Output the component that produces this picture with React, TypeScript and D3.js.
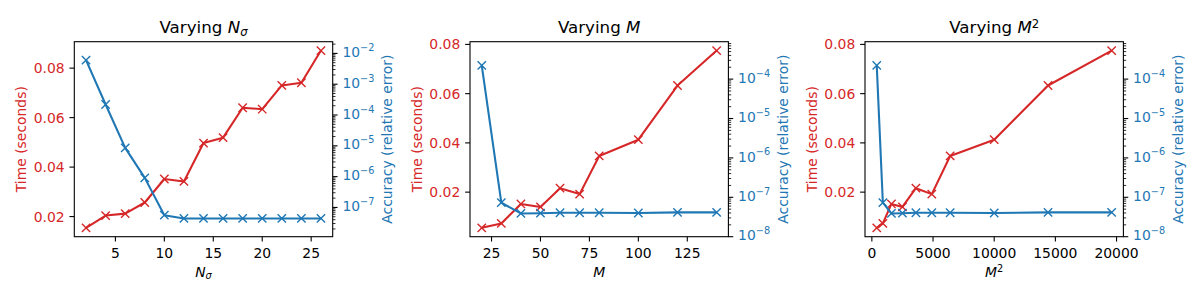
import { scaleLinear, scaleLog, line as d3line, min as d3min, max as d3max } from "d3";
import type { ReactNode } from "react";

// data
const nSigma = [2, 4, 6, 8, 10, 12, 14, 16, 18, 20, 22, 24, 26];
const timeNSigma = [0.01545, 0.0204, 0.0212, 0.0257, 0.0352, 0.0342, 0.0497, 0.0519, 0.064, 0.0634, 0.073, 0.0741, 0.0871];
const errNSigma = [6.05e-3, 2.2e-4, 8.6e-6, 9.1e-7, 5.6e-8, 4.4e-8, 4.4e-8, 4.4e-8, 4.4e-8, 4.4e-8, 4.4e-8, 4.4e-8, 4.4e-8];

const mValues = [20, 30, 40, 50, 60, 70, 80, 100, 120, 140];
const m2Values = [400, 900, 1600, 2500, 3600, 4900, 6400, 10000, 14400, 19600];
const timeM = [0.0055, 0.0073, 0.0152, 0.014, 0.0216, 0.0192, 0.0347, 0.0413, 0.0633, 0.0775];
const errM = [2.23e-4, 7.3e-8, 3.9e-8, 3.95e-8, 4.05e-8, 4.05e-8, 4.05e-8, 4.0e-8, 4.15e-8, 4.15e-8];

const xTicksNSigma = [5, 10, 15, 20, 25];
const xTicksM = [25, 50, 75, 100, 125];
const xTicksM2 = [0, 5000, 10000, 15000, 20000];
const timeTicks = [0.02, 0.04, 0.06, 0.08];
const timeTickLabels = ["0.02", "0.04", "0.06", "0.08"];
const errExpNSigma = [-7, -6, -5, -4, -3, -2];
const errExpM = [-8, -7, -6, -5, -4];

const RED = "#d62728";
const BLUE = "#1f77b4";
const FONT = "DejaVu Sans";
const FS = 13.9;

const TOP = 41.7;
const BOTTOM = 236.7;
const AX_W = 258.4;
const MAJOR = 4.86;
const MINOR = 2.78;

type Kind = "nsigma" | "m" | "m2";

interface Panel {
  kind: Kind;
  left: number;
  xs: number[];
  time: number[];
  err: number[];
  xTicks: number[];
  errExps: number[];
  logDomain: [number, number];
}

const panels: Panel[] = [
  { kind: "nsigma", left: 74.3, xs: nSigma, time: timeNSigma, err: errNSigma, xTicks: xTicksNSigma, errExps: errExpNSigma, logDomain: [10 ** -7.95, 10 ** -1.62] },
  { kind: "m", left: 470, xs: mValues, time: timeM, err: errM, xTicks: xTicksM, errExps: errExpM, logDomain: [1e-8, 10 ** -3.05] },
  { kind: "m2", left: 865, xs: m2Values, time: timeM, err: errM, xTicks: xTicksM2, errExps: errExpM, logDomain: [1e-8, 10 ** -3.05] },
];

function padded(vals: number[]): [number, number] {
  const lo = d3min(vals) ?? 0;
  const hi = d3max(vals) ?? 1;
  const p = (hi - lo) * 0.05;
  return [lo - p, hi + p];
}

function symbol(kind: Kind): ReactNode {
  if (kind === "nsigma")
    return (
      <>
        <tspan fontStyle="italic">N</tspan>
        <tspan fontStyle="italic" fontSize="0.7em" dy="0.25em">σ</tspan>
      </>
    );
  if (kind === "m") return <tspan fontStyle="italic">M</tspan>;
  return (
    <>
      <tspan fontStyle="italic">M</tspan>
      <tspan fontSize="0.7em" dy="-0.5em">2</tspan>
    </>
  );
}

function Marker({ x, y, color }: { x: number; y: number; color: string }) {
  const s = 4.17;
  return (
    <path d={`M${x - s},${y - s}L${x + s},${y + s}M${x - s},${y + s}L${x + s},${y - s}`} stroke={color} strokeWidth={1.4} fill="none" />
  );
}

function ChartPanel({ p }: { p: Panel }) {
  const right = p.left + AX_W;
  const cx = p.left + AX_W / 2;
  const x = scaleLinear().domain(padded(p.xs)).range([p.left, right]);
  const y = scaleLinear().domain(padded(p.time)).range([BOTTOM, TOP]);
  const yl = scaleLog().domain(p.logDomain).range([BOTTOM, TOP]);

  const redPath = d3line<number>().x((_, i) => x(p.xs[i])).y((v) => y(v))(p.time) ?? "";
  const bluePath = d3line<number>().x((_, i) => x(p.xs[i])).y((v) => yl(v))(p.err) ?? "";

  const [lo, hi] = p.logDomain;
  const minors: number[] = [];
  for (let k = Math.floor(Math.log10(lo)); k <= Math.ceil(Math.log10(hi)); k++) {
    for (let m = 2; m <= 9; m++) {
      const v = m * 10 ** k;
      if (v >= lo && v <= hi) minors.push(v);
    }
  }

  return (
    <g fontFamily={FONT} fontSize={FS}>
      <text x={cx} y={33.4} textAnchor="middle" fontSize={16.7}>
        <tspan>Varying </tspan>
        {symbol(p.kind)}
      </text>

      {/* x axis */}
      {p.xTicks.map((t) => (
        <g key={t}>
          <line x1={x(t)} x2={x(t)} y1={BOTTOM} y2={BOTTOM + MAJOR} stroke="#000" strokeWidth={1.1} />
          <text x={x(t)} y={258} textAnchor="middle">{t}</text>
        </g>
      ))}
      <text x={cx} y={276.7} textAnchor="middle">{symbol(p.kind)}</text>

      {/* left axis: time */}
      {timeTicks.map((t, i) => (
        <g key={t}>
          <line x1={p.left - MAJOR} x2={p.left} y1={y(t)} y2={y(t)} stroke="#000" strokeWidth={1.1} />
          <text x={p.left - 9.7} y={y(t)} dy="0.36em" textAnchor="end" fill={RED}>{timeTickLabels[i]}</text>
        </g>
      ))}
      <text transform={`translate(${p.left - 53},${(TOP + BOTTOM) / 2}) rotate(-90)`} textAnchor="middle" dominantBaseline="central" fill={RED}>
        Time (seconds)
      </text>

      {/* right axis: log error */}
      {minors.map((v) => (
        <line key={v} x1={right} x2={right + MINOR} y1={yl(v)} y2={yl(v)} stroke="#000" strokeWidth={0.83} />
      ))}
      {p.errExps.map((e) => (
        <g key={e}>
          <line x1={right} x2={right + MAJOR} y1={yl(10 ** e)} y2={yl(10 ** e)} stroke="#000" strokeWidth={1.1} />
          <text x={right + 9.7} y={yl(10 ** e) + 3.6} fill={BLUE}>
            <tspan>10</tspan>
            <tspan fontSize="0.7em" dy="-0.62em">{`\u2212${Math.abs(e)}`}</tspan>
          </text>
        </g>
      ))}
      <text transform={`translate(${right + 54.5},${(TOP + BOTTOM) / 2}) rotate(-90)`} textAnchor="middle" dominantBaseline="central" fill={BLUE}>
        Accuracy (relative error)
      </text>

      {/* series */}
      <path d={redPath} fill="none" stroke={RED} strokeWidth={2.08} strokeLinejoin="round" />
      {p.time.map((v, i) => (
        <Marker key={i} x={x(p.xs[i])} y={y(v)} color={RED} />
      ))}
      <path d={bluePath} fill="none" stroke={BLUE} strokeWidth={2.08} strokeLinejoin="round" />
      {p.err.map((v, i) => (
        <Marker key={i} x={x(p.xs[i])} y={yl(v)} color={BLUE} />
      ))}

      <rect x={p.left} y={TOP} width={AX_W} height={BOTTOM - TOP} fill="none" stroke="#000" strokeWidth={1.1} />
    </g>
  );
}

export default function App() {
  return (
    <div style={{ position: "absolute", left: 0, top: 0 }}>
      <svg width={1200} height={300} viewBox="0 0 1200 300" style={{ display: "block", background: "#fff" }}>
        {panels.map((p) => (
          <ChartPanel key={p.kind} p={p} />
        ))}
      </svg>
    </div>
  );
}
